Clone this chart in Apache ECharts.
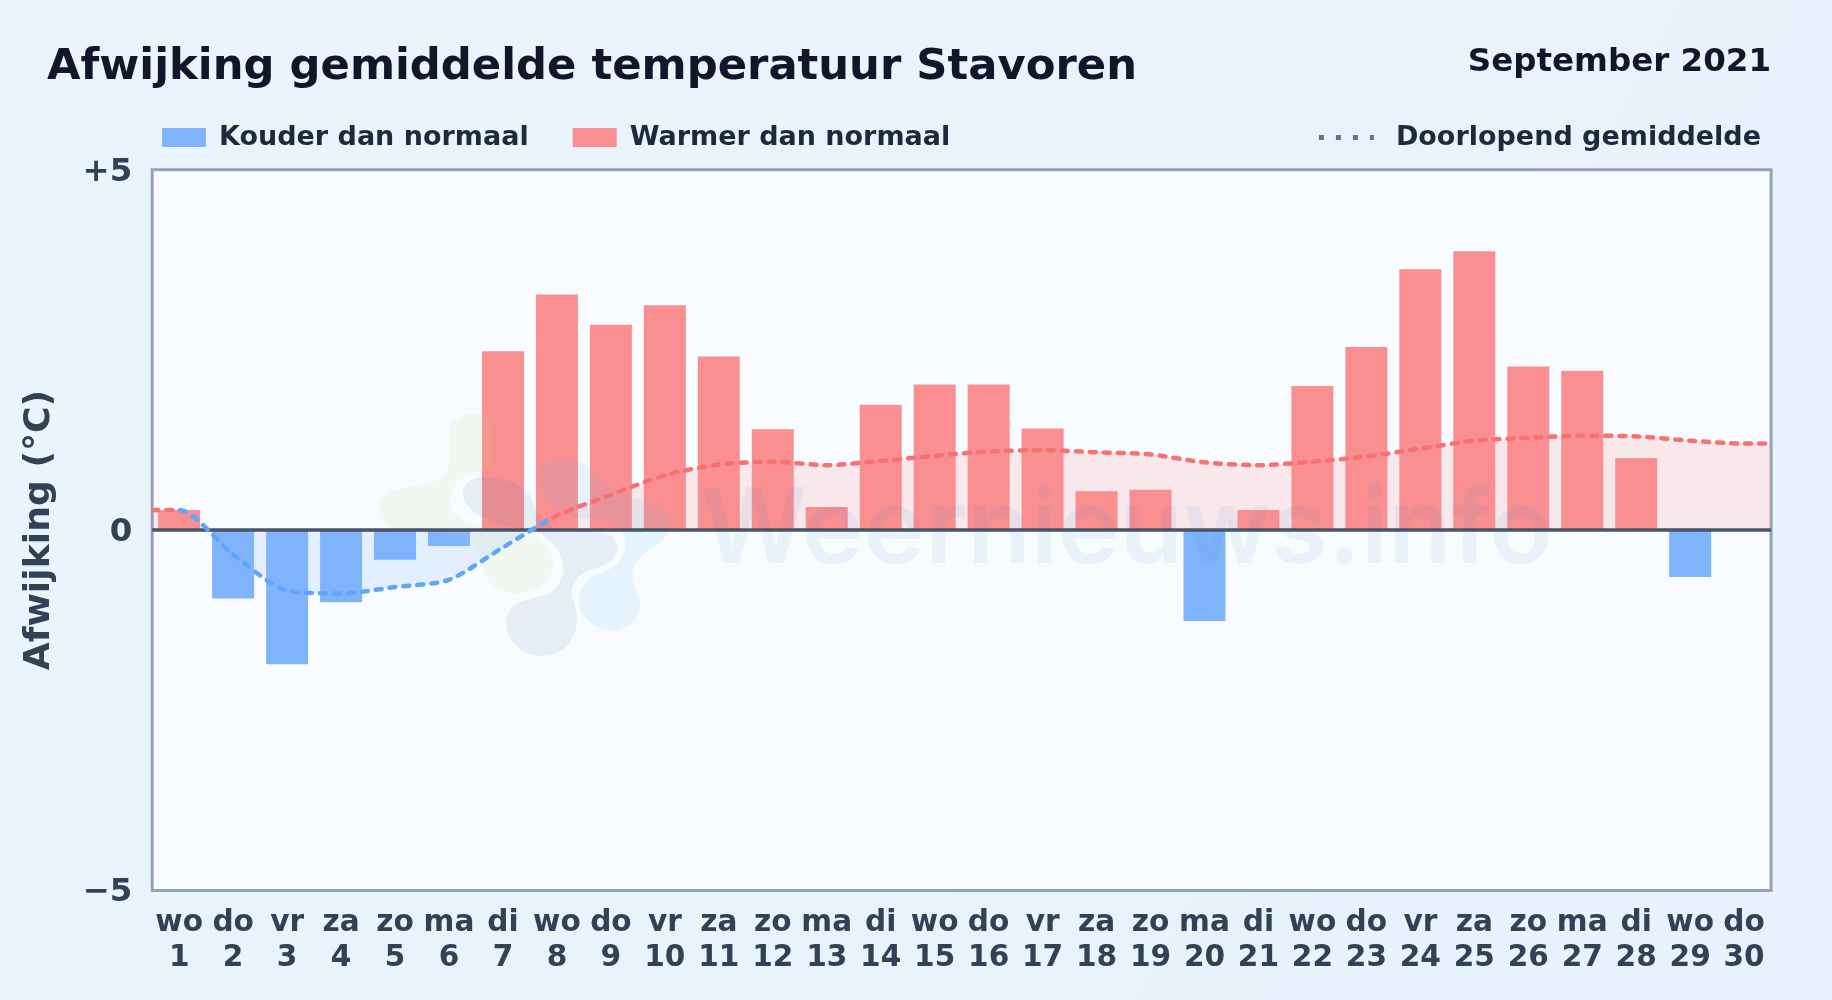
<!DOCTYPE html>
<html><head><meta charset="utf-8">
<style>html,body{margin:0;padding:0;background:#e8f3fc}#c{width:1832px;height:1000px}</style>
<script src="https://cdn.jsdelivr.net/npm/echarts@6/dist/echarts.min.js"></script>
</head><body><div id="c"></div>
<script>
const weekdays = ['wo','do','vr','za','zo','ma','di','wo','do','vr','za','zo','ma','di','wo','do','vr','za','zo','ma','di','wo','do','vr','za','zo','ma','di','wo','do'];
const days = [1,2,3,4,5,6,7,8,9,10,11,12,13,14,15,16,17,18,19,20,21,22,23,24,25,26,27,28,29,30];
const deviation = [0.28,-0.95,-1.86,-1.0,-0.41,-0.22,2.48,3.27,2.85,3.12,2.41,1.40,0.32,1.74,2.02,2.02,1.41,0.54,0.56,-1.26,0.28,2.0,2.54,3.62,3.87,2.27,2.21,1.0,-0.65,null];
const runningMean = [0.28,-0.34,-0.84,-0.88,-0.79,-0.69,-0.24,0.2,0.49,0.76,0.91,0.95,0.9,0.96,1.03,1.09,1.11,1.08,1.05,0.94,0.9,0.95,1.02,1.13,1.24,1.28,1.31,1.3,1.24,1.2];
const yTickLabels = {'-5':'\u22125','0':'0','5':'+5'};
const titleText = 'Afwijking gemiddelde temperatuur Stavoren';
const periodText = 'September 2021';
const yAxisTitle = 'Afwijking (\u00b0C)';
const legendCold = 'Kouder dan normaal', legendWarm = 'Warmer dan normaal', legendMean = 'Doorlopend gemiddelde';
const watermarkText = 'Weernieuws.info';

const F = '"DejaVu Sans"';
const categories = weekdays.map((w,i)=>w+'\n'+days[i]);
const coldValues = deviation.map(v=>v!==null&&v<0?v:null);
const warmValues = deviation.map(v=>v!==null&&v>=0?v:null);
const xMin=0.5,xMax=30.5;
const meanLine = [[xMin,runningMean[0]]].concat(days.map((d,i)=>[d,runningMean[i]]),[[xMax,runningMean[runningMean.length-1]]]);
const RED='#f87171', BLUE='#60a5fa';

echarts.graphic.registerShape('logoA',echarts.graphic.extendPath('M268 130C268 90 310 68 350 72C385 76 400 100 400 140L400 240C340 235 265 270 272 340C278 390 330 410 430 430C500 430 540 440 560 470C575 490 580 505 580 520C580 570 530 610 470 610C410 610 370 570 368 530C365 490 330 440 250 430C170 430 100 430 75 400C50 370 50 330 85 310C130 285 210 290 240 265C280 240 268 190 268 130Z',{}));
echarts.graphic.registerShape('logoB',echarts.graphic.extendPath('M308 310C310 275 340 258 375 262C430 265 505 280 520 340C530 380 560 420 640 425C700 425 770 420 772 470C770 510 740 525 690 540C650 555 625 590 640 630C655 670 655 700 640 740C620 780 580 800 540 798C480 795 440 750 438 700C440 650 470 635 530 622C590 610 612 570 610 530C605 470 560 440 520 420C440 410 320 390 308 310Z',{}));
echarts.graphic.registerShape('logoC',echarts.graphic.extendPath('M540 230C570 195 650 200 690 235C720 265 760 320 850 330C920 345 945 400 925 430C900 470 830 490 818 540C810 590 842 610 842 650C838 695 790 722 755 722C700 720 660 680 655 640C650 600 680 560 730 545C780 530 800 490 795 450C785 390 720 390 640 380C580 370 520 290 540 230Z',{}));
const blob = (t,fill)=>({type:t,z:3,silent:true,x:360,y:390,scaleX:1/3,scaleY:1/3,style:{fill}});
const chart = echarts.init(document.getElementById('c'),null,{renderer:'canvas'});
chart.setOption({
  animation:false,
  backgroundColor:new echarts.graphic.LinearGradient(0,0,1,1,[{offset:0,color:'#e9f4fd'},{offset:.5,color:'#e8f3fc'},{offset:1,color:'#e7f2fc'}]),
  title:[
    {text:titleText,left:42,top:41,textStyle:{fontFamily:F,fontWeight:'bold',fontSize:43.3,color:'#0f172a'}},
    {text:periodText,right:56,top:41,textStyle:{fontFamily:F,fontWeight:'bold',fontSize:32.5,color:'#0f172a'}}
  ],
  legend:[
    {left:157,top:119,itemWidth:44,itemHeight:19,itemGap:44,data:[{name:legendCold,icon:'rect'},{name:legendWarm,icon:'rect'}],
     textStyle:{fontFamily:F,fontWeight:'bold',fontSize:27,color:'#1e293b',padding:[6,0,0,8]},selectedMode:false},
    {right:66,top:119,itemWidth:55,itemHeight:19,data:[{name:legendMean,itemStyle:{opacity:0},lineStyle:{color:'#64748b',width:5,type:[5,12],cap:'butt',opacity:1}}],
     textStyle:{fontFamily:F,fontWeight:'bold',fontSize:27,color:'#1e293b',padding:[6,0,0,17]},selectedMode:false}
  ],
  grid:{left:152.2,right:60.9,top:169.7,bottom:109.5,show:true,backgroundColor:'#f8fbff',borderColor:'#94a3b8',borderWidth:3},
  xAxis:[
    {type:'category',data:categories,axisLine:{show:false,onZero:false},axisTick:{show:false},
     axisLabel:{interval:0,margin:15,fontFamily:F,fontWeight:'bold',fontSize:29.6,lineHeight:35,color:'#334155'}},
    {type:'value',min:xMin,max:xMax,show:false}
  ],
  yAxis:{type:'value',min:-5,max:5,interval:5,splitLine:{show:false},axisLine:{show:false},axisTick:{show:false},
    axisLabel:{margin:20,fontFamily:F,fontWeight:'bold',fontSize:32.4,color:'#334155',verticalAlign:'middle',
      rich:{t:{fontFamily:F,fontWeight:'bold',fontSize:32.4,color:'#334155',padding:[5,0,0,0]}},
      formatter:v=>'{t|'+yTickLabels[v]+'}'},
    name:yAxisTitle,nameLocation:'middle',nameGap:94.5,nameRotate:90,
    nameTextStyle:{fontFamily:F,fontWeight:'bold',fontSize:36.2,color:'#334155'}},
  visualMap:[
    {show:false,type:'piecewise',dimension:1,seriesIndex:0,pieces:[{gt:0,lte:10,color:RED},{gte:-10,lte:0,color:BLUE}]},
    {show:false,type:'piecewise',dimension:0,seriesIndex:1,pieces:[{gte:xMin,lte:0.94,color:RED},{gt:0.94,lte:7.88,color:BLUE},{gt:7.88,lte:xMax,color:RED}]}
  ],
  series:[
    {type:'line',name:'area',xAxisIndex:1,data:meanLine,smooth:.25,showSymbol:false,symbol:'none',z:1,silent:true,
     lineStyle:{width:0},areaStyle:{opacity:.14},
     markLine:{silent:true,z:4,symbol:'none',label:{show:false},data:[{yAxis:0}],lineStyle:{color:'#475569',width:3.5,type:'solid'}}},
    {type:'line',name:legendMean,xAxisIndex:1,data:meanLine,smooth:.25,showSymbol:false,symbol:'none',z:5,silent:true,
     lineStyle:{width:4.5,type:[6,8],cap:'round',opacity:1}},
    {type:'bar',name:legendCold,data:coldValues,barWidth:42,barGap:'-100%',z:2,itemStyle:{color:'#7fb4fb'}},
    {type:'bar',name:legendWarm,data:warmValues,barWidth:42,barGap:'-100%',z:2,itemStyle:{color:'#f98f91'}}
  ],
  graphic:[
    blob('logoA','rgba(198,221,115,.1)'),
    blob('logoB','rgba(68,131,175,.1)'),
    blob('logoC','rgba(88,181,225,.1)'),
    {type:'text',z:3,silent:true,x:1127,y:480,style:{text:watermarkText,x:0,y:0,align:'center',verticalAlign:'top',fontFamily:'Inter',fontWeight:600,fontSize:104,fill:'rgba(59,130,200,.08)'}}
  ]
});
</script></body></html>
